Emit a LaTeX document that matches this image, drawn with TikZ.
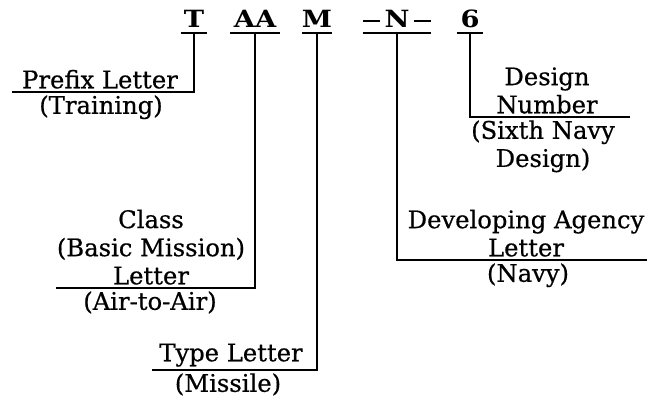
\documentclass[tikz,border=0pt]{standalone}
\usepackage{fontspec}
\setmainfont[FakeBold=0.6]{DejaVu Serif}
\newfontfamily\codefont[FakeStretch=1.15]{DejaVu Serif Bold}
\newcommand{\codedash}{\rule[1.1mm]{3.4mm}{0.35mm}}

\begin{document}
\begin{tikzpicture}[
    x=0.2mm, y=-0.2mm,
    code/.style={font=\codefont\fontsize{13.5}{15}\selectfont, anchor=base, text depth=0pt, inner xsep=0pt, inner ysep=1.2mm},
    lbl/.style={align=center, inner sep=0.6mm, font=\fontsize{13.8}{16}\selectfont},
    lead/.style={line width=1pt},
    uline/.style={line width=1.1pt}
]
\useasboundingbox (0,0) rectangle (650,396);

% the designation, letter by letter
\node[code, minimum width=5.2mm] (t) at (194,27) {T};
\node[code, minimum width=10mm] (aa) at (255,27) {AA};
\node[code, minimum width=4.8mm] (m) at (317,27) {M};
\node[code, minimum width=13.4mm] (n) at (397,27) {\codedash\hspace{0.9mm}N\hspace{0.9mm}\codedash};
\node[code, minimum width=5.2mm] (six) at (470,27) {6};
\foreach \c in {t,aa,m,n,six}
    \draw[uline] (\c.south west) -- (\c.south east);

% prefix
\node[lbl, anchor=south] (prefix) at (100,92) {Prefix Letter};
\node[lbl, anchor=north] (training) at (101,92) {(Training)};
\coordinate (prefixend) at (12,92);
\draw[lead] (t.south) |- (prefixend);

% class
\node[lbl, anchor=south] (class) at (151,288) {Class\\(Basic Mission)\\Letter};
\node[lbl, anchor=north] (airair) at (150,288) {(Air-to-Air)};
\coordinate (classend) at (56,288);
\draw[lead] (aa.south) |- (classend);

% type
\node[lbl, anchor=south] (type) at (231,370) {Type Letter};
\node[lbl, anchor=north] (missile) at (228,370) {(Missile)};
\coordinate (typeend) at (152,370);
\draw[lead] (m.south) |- (typeend);

% developing agency
\node[lbl, anchor=south] (agency) at (526,260) {Developing Agency\\Letter};
\node[lbl, anchor=north] (navy) at (528,260) {(Navy)};
\coordinate (agencyend) at (647,260);
\draw[lead] (n.south) |- (agencyend);

% design number
\node[lbl, anchor=south] (design) at (547,117) {Design\\Number};
\node[lbl, anchor=north] (sixth) at (543,117) {(Sixth Navy\\Design)};
\coordinate (designend) at (630,117);
\draw[lead] (six.south) |- (designend);
\end{tikzpicture}
\end{document}
